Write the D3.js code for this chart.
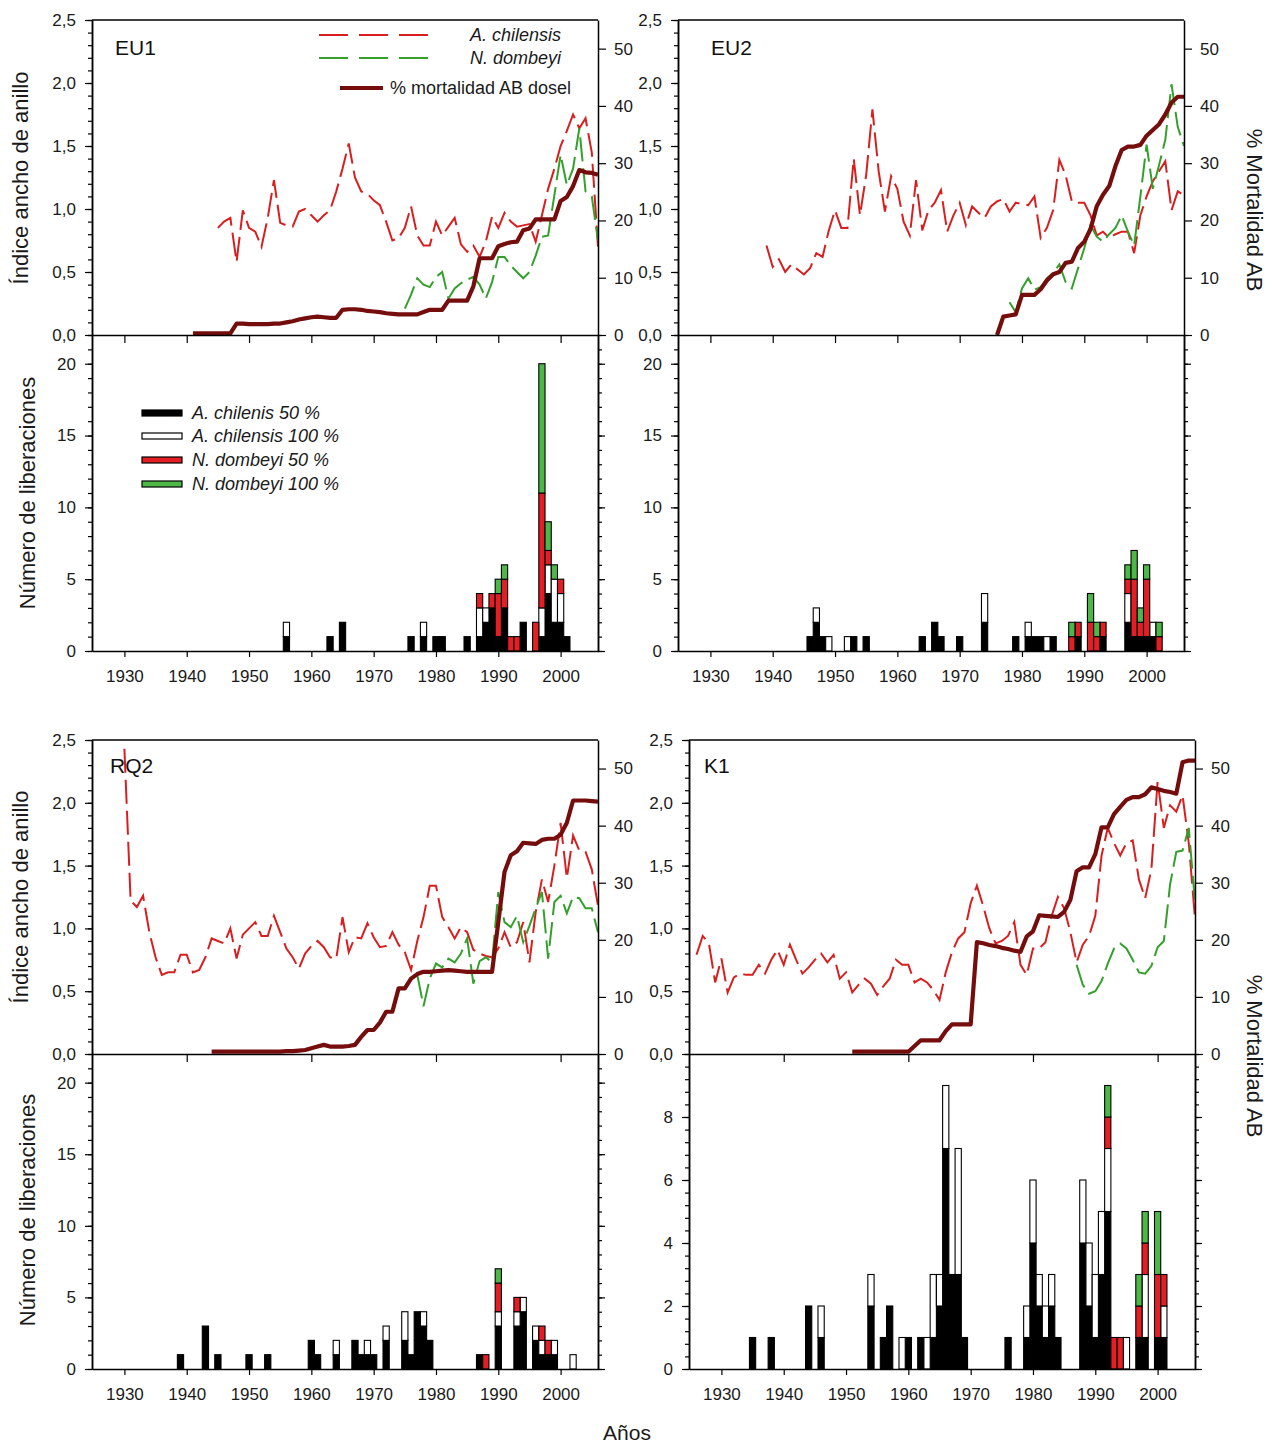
<!DOCTYPE html>
<html>
<head>
<meta charset="utf-8">
<script src="https://cdnjs.cloudflare.com/ajax/libs/d3/7.8.5/d3.min.js"></script>
<style>
body { margin: 0; background: #fff; }
</style>
</head>
<body>
<div id="chart"></div>
<script>
// ---------- datos (indice de ancho de anillo, un valor por año) ----------
var sites = ["EU1", "EU2", "RQ2", "K1"];

var eu1ChilStart = 1945;
var eu1Chil = [0.85,0.90,0.93,0.58,0.99,
  0.85,0.82,0.70,0.93,1.23,0.89,0.87,0.86,0.98,1.00,
  0.95,0.90,0.95,0.99,1.14,1.32,1.52,1.25,1.14,1.12,
  1.07,1.03,0.90,0.75,0.77,0.85,1.02,0.79,0.71,0.71,
  0.90,0.79,0.86,0.93,0.72,0.66,0.71,0.62,0.74,0.94,
  0.85,0.97,0.90,0.86,0.87,0.88,0.74,0.95,1.16,1.32,
  1.50,1.62,1.75,1.64,1.72,1.45,0.70];
var eu1DombStart = 1975;
var eu1Domb = [0.21,0.32,0.45,0.40,0.38,0.46,0.50,0.29,0.37,0.41,0.44,0.46,0.40,0.29,0.42,
  0.62,0.62,0.55,0.50,0.45,0.50,0.63,0.78,0.79,1.11,1.43,1.19,1.32,1.64,1.14,1.10,0.75];
var eu1MortStart = 1941;
var eu1Mort = [0.3,0.3,0.3,0.3,0.3,0.3,0.3,2.0,2.0,1.9,
  1.9,1.9,1.9,2.0,2.0,2.2,2.4,2.7,2.9,3.1,
  3.2,3.1,3.0,3.0,4.4,4.5,4.5,4.4,4.2,4.1,
  4.0,3.8,3.7,3.6,3.6,3.6,3.6,4.0,4.4,4.4,
  4.4,6.0,6.0,6.0,6.0,8.5,13.4,13.4,13.4,15.5,
  15.9,16.2,16.3,18.3,18.6,20.2,20.2,20.2,20.2,23.4,
  24.1,26.0,28.8,28.4,28.3,28.0];

var eu2ChilStart = 1939;
var eu2Chil = [0.71,0.54,0.60,0.50,0.56,0.52,0.48,0.53,0.65,0.62,0.83,
  0.99,0.85,0.85,1.40,0.95,1.27,1.79,1.30,0.98,1.26,
  1.16,0.90,0.79,1.23,0.83,0.99,1.05,1.15,0.82,0.95,
  1.05,0.87,1.02,0.97,0.93,1.02,1.06,1.08,0.98,1.05,
  1.04,1.03,1.10,0.77,0.85,0.99,1.39,1.27,1.06,1.05,
  1.05,0.95,0.79,0.82,0.77,0.80,0.82,0.82,0.65,0.95,
  1.10,1.22,1.30,1.38,0.99,1.14,1.11];
var eu2DombStart = 1978;
var eu2Domb = [0.26,0.18,0.37,0.45,0.36,0.38,0.45,0.49,0.56,0.42,0.37,0.53,
  0.69,0.87,0.78,0.74,0.80,0.85,0.95,0.82,0.71,1.10,1.51,1.16,1.35,1.55,1.99,1.65,1.50];
var eu2MortStart = 1976;
var eu2Mort = [0,3.2,3.4,3.6,7.0,7.0,7.0,8.0,9.5,10.6,11.0,12.6,12.8,15.2,
  16.3,18.5,22.5,24.5,26.0,29.5,32.3,32.9,32.9,33.2,34.8,35.8,36.8,38.5,40.6,41.6,41.6];

var rq2ChilStart = 1930;
var rq2Chil = [2.43,1.22,1.17,1.26,0.97,0.77,0.63,0.65,0.65,0.79,
  0.79,0.65,0.67,0.77,0.92,0.90,0.88,1.00,0.76,0.95,
  1.00,1.05,0.94,0.94,1.10,0.97,0.84,0.77,0.68,0.80,
  0.86,0.90,0.85,0.77,0.76,1.09,0.81,0.93,0.92,1.04,
  0.93,0.85,0.86,0.97,0.87,0.81,0.67,0.90,1.09,1.34,
  1.34,1.09,1.01,0.92,1.01,0.97,0.83,0.80,0.78,0.77,
  0.84,0.97,0.85,0.89,1.05,0.73,1.13,1.39,1.21,1.50,
  1.84,1.40,1.74,1.62,1.61,1.47,1.18];
var rq2DombStart = 1977;
var rq2Domb = [0.63,0.38,0.60,0.72,0.69,0.76,0.73,0.80,0.92,0.56,
  0.74,0.77,0.73,1.29,1.05,1.01,1.10,0.89,1.02,1.16,
  1.29,0.76,1.21,1.26,1.12,1.25,1.24,1.16,1.16,0.97];
var rq2MortStart = 1944;
var rq2Mort = [0.4,0.4,0.4,0.4,0.4,0.4,0.4,0.4,0.4,0.4,
  0.4,0.4,0.5,0.5,0.6,0.7,1.0,1.3,1.6,1.3,
  1.3,1.3,1.4,1.6,3.0,4.2,4.2,5.5,7.4,7.4,
  11.5,11.5,13.2,14.0,14.4,14.4,14.5,14.6,14.7,14.6,
  14.5,14.4,14.4,14.4,14.4,14.4,23.1,31.9,34.8,35.5,
  37.0,36.9,36.8,37.5,37.7,37.7,38.4,40.5,44.4,44.4,
  44.4,44.3,44.2];

var k1ChilStart = 1926;
var k1Chil = [0.79,0.94,0.88,0.57,
  0.76,0.49,0.61,0.64,0.63,0.63,0.71,0.64,0.75,0.83,
  0.71,0.87,0.75,0.64,0.69,0.75,0.80,0.73,0.79,0.60,
  0.65,0.49,0.55,0.60,0.56,0.47,0.54,0.60,0.75,0.71,
  0.71,0.57,0.60,0.57,0.51,0.43,0.65,0.81,0.92,0.97,
  1.20,1.34,1.18,1.00,0.88,0.90,0.94,1.05,0.71,0.63,
  0.84,0.84,0.89,1.10,1.25,1.16,0.97,0.73,0.87,0.94,
  1.10,1.58,1.80,1.68,1.58,1.68,1.70,1.39,1.24,1.47,
  2.17,1.80,1.98,1.93,2.06,1.68,1.08];
var k1DombStart = 1987;
var k1Domb = [0.71,0.55,0.48,0.50,0.58,0.72,0.84,0.88,0.84,0.75,
  0.65,0.64,0.70,0.85,0.90,1.35,1.61,1.62,1.80,1.21];
var k1MortStart = 1951;
var k1Mort = [0.4,0.4,0.4,0.4,0.4,0.4,0.4,0.4,0.4,0.4,
  1.4,2.4,2.4,2.4,2.4,4.0,5.2,5.2,5.2,5.2,
  19.6,19.4,19.1,18.9,18.6,18.4,18.1,17.9,20.6,21.5,
  24.3,24.2,24.1,24.0,24.9,27.0,32.0,32.7,32.7,35.0,
  39.7,39.7,42.0,43.3,44.5,45.0,45.0,45.5,46.7,46.4,
  46.1,45.9,45.6,51.1,51.4,51.4];

// ---------- datos (numero de liberaciones por año) ----------
var eu1BarYears = [1956,1963,1965,1976,1978,1980,1981,1985,1987,1988,1989,1990,1991,1992,1993,1994,1996,1997,1998,1999,2000,2001];
var eu1Ach50  = [1,1,2,1,1,1,1,1,1,2,3,1,3,0,0,2,0,1,4,2,2,1];
var eu1Ach100 = [1,0,0,0,1,0,0,0,2,1,0,0,0,0,0,0,0,2,2,3,2,0];
var eu1Nd50   = [0,0,0,0,0,0,0,0,1,0,1,3,2,1,1,0,2,8,1,0,1,0];
var eu1Nd100  = [0,0,0,0,0,0,0,0,0,0,0,1,1,0,0,0,0,9,2,1,0,0];

var eu2BarYears = [1946,1947,1948,1949,1952,1953,1955,1964,1966,1967,1970,1974,1979,1981,1982,1983,1984,1985,1988,1989,1991,1992,1993,1997,1998,1999,2000,2001,2002];
var eu2Ach50  = [1,2,1,0,0,1,1,1,2,1,1,2,1,1,1,1,0,1,0,1,0,0,1,2,1,1,1,1,0];
var eu2Ach100 = [0,1,0,1,1,0,0,0,0,0,0,2,0,1,0,0,1,0,0,0,0,0,0,2,0,0,0,1,0];
var eu2Nd50   = [0,0,0,0,0,0,0,0,0,0,0,0,0,0,0,0,0,0,1,1,2,1,1,1,4,1,4,0,1];
var eu2Nd100  = [0,0,0,0,0,0,0,0,0,0,0,0,0,0,0,0,0,0,1,0,2,1,0,1,2,1,1,0,1];

var rq2BarYears = [1939,1943,1945,1950,1953,1960,1961,1964,1967,1968,1969,1970,1972,1975,1976,1977,1978,1979,1987,1988,1990,1993,1994,1996,1997,1998,1999,2002];
var rq2Ach50  = [1,3,1,1,1,2,1,1,2,1,1,1,2,2,1,4,3,2,1,0,3,3,4,2,1,1,1,0];
var rq2Ach100 = [0,0,0,0,0,0,0,1,0,0,1,0,1,2,0,0,1,0,0,0,1,1,1,1,1,0,1,1];
var rq2Nd50   = [0,0,0,0,0,0,0,0,0,0,0,0,0,0,0,0,0,0,0,1,2,1,0,0,1,1,0,0];
var rq2Nd100  = [0,0,0,0,0,0,0,0,0,0,0,0,0,0,0,0,0,0,0,0,1,0,0,0,0,0,0,0];

var k1BarYears = [1935,1938,1944,1946,1954,1956,1957,1959,1960,1962,1963,1964,1965,1966,1967,1968,1969,1976,1979,1980,1981,1982,1983,1984,1988,1989,1990,1991,1992,1993,1994,1995,1997,1998,2000,2001];
var k1Ach50  = [1,1,2,1,2,1,2,0,1,1,0,1,2,7,3,3,1,1,1,4,2,1,2,1,4,2,1,3,5,0,0,0,1,1,1,1];
var k1Ach100 = [0,0,0,1,1,0,0,1,0,0,1,2,1,2,0,4,0,0,1,2,1,1,1,0,2,2,2,2,2,0,0,1,0,2,0,1];
var k1Nd50   = [0,0,0,0,0,0,0,0,0,0,0,0,0,0,0,0,0,0,0,0,0,0,0,0,0,0,0,0,1,1,1,0,1,1,2,1];
var k1Nd100  = [0,0,0,0,0,0,0,0,0,0,0,0,0,0,0,0,0,0,0,0,0,0,0,0,0,0,0,0,1,0,0,0,1,1,2,0];

var decadeTicks = [1930,1940,1950,1960,1970,1980,1990,2000];
var idxTicks = [0,0.5,1,1.5,2,2.5];
var mortTicks = [0,10,20,30,40,50];

// ---------- armado ----------
var data = {
  EU1: {chilStart: eu1ChilStart, chil: eu1Chil, dombStart: eu1DombStart, domb: eu1Domb, mortStart: eu1MortStart, mort: eu1Mort,
        years: eu1BarYears, a50: eu1Ach50, a100: eu1Ach100, n50: eu1Nd50, n100: eu1Nd100},
  EU2: {chilStart: eu2ChilStart, chil: eu2Chil, dombStart: eu2DombStart, domb: eu2Domb, mortStart: eu2MortStart, mort: eu2Mort,
        years: eu2BarYears, a50: eu2Ach50, a100: eu2Ach100, n50: eu2Nd50, n100: eu2Nd100},
  RQ2: {chilStart: rq2ChilStart, chil: rq2Chil, dombStart: rq2DombStart, domb: rq2Domb, mortStart: rq2MortStart, mort: rq2Mort,
        years: rq2BarYears, a50: rq2Ach50, a100: rq2Ach100, n50: rq2Nd50, n100: rq2Nd100},
  K1:  {chilStart: k1ChilStart, chil: k1Chil, dombStart: k1DombStart, domb: k1Domb, mortStart: k1MortStart, mort: k1Mort,
        years: k1BarYears, a50: k1Ach50, a100: k1Ach100, n50: k1Nd50, n100: k1Nd100}
};

// posiciones de cada panel
var layout = {
  EU1: {x0: 92,  x1: 598,  yTop: 20,  yMid: 335,  yBot: 651,  barMax: 22, barMajor: [0,5,10,15,20], barMinor: 1,   midTicks: decadeTicks, label: [115, 55]},
  EU2: {x0: 678, x1: 1184, yTop: 20,  yMid: 335,  yBot: 651,  barMax: 22, barMajor: [0,5,10,15,20], barMinor: 1,   midTicks: decadeTicks, label: [711, 55]},
  RQ2: {x0: 92,  x1: 598,  yTop: 740, yMid: 1054, yBot: 1369, barMax: 22, barMajor: [0,5,10,15,20], barMinor: 1,   midTicks: [1940,1960,1980,2000], label: [110, 773]},
  K1:  {x0: 689, x1: 1195, yTop: 740, yMid: 1054, yBot: 1369, barMax: 10, barMajor: [0,2,4,6,8],     barMinor: 0.4, midTicks: [1940,1960,1980,2000], label: [704, 773]}
};

var redCol = "#d81e1e", greenCol = "#33a02c", mortCol = "#760d0d";
var barRed = "#e31e24", barGreen = "#4db848";
var font = "'Liberation Sans', Arial, sans-serif";
var xDomain = [1924.8, 2006];

var W = 1270, H = 1447;
var svg = d3.select("#chart").append("svg")
  .attr("width", W).attr("height", H)
  .style("font-family", font);

var fmtIdx = function(d) { return d3.format(".1f")(d).replace(".", ","); };

function styleAxis(g, size) {
  g.selectAll("path.domain").attr("stroke", "#000").attr("stroke-width", 1.5);
  g.selectAll(".tick line").attr("stroke", "#000").attr("stroke-width", 1.2);
  g.selectAll("text").attr("font-family", font).attr("font-size", size || 17).attr("fill", "#1a1a1a");
}

function minorValues(max, step) {
  var out = [];
  for (var v = 0; v <= max + 1e-9; v += step) out.push(+v.toFixed(2));
  return out;
}

function drawSite(name) {
  var L = layout[name], D = data[name];
  var g = svg.append("g");

  var x = d3.scaleLinear().domain(xDomain).range([L.x0, L.x1]);
  var yIdx = d3.scaleLinear().domain([0, 2.5]).range([L.yMid, L.yTop]);
  var yMort = d3.scaleLinear().domain([0, 55]).range([L.yMid, L.yTop]);
  var yBar = d3.scaleLinear().domain([0, L.barMax]).range([L.yBot, L.yMid]);

  var clipId = "clip" + name;
  svg.append("clipPath").attr("id", clipId).append("rect")
    .attr("x", L.x0).attr("y", L.yTop)
    .attr("width", L.x1 - L.x0).attr("height", L.yMid - L.yTop);

  function pts(start, vals) {
    return vals.map(function(v, i) { return [start + i, v]; });
  }
  var lineIdx = d3.line().x(function(d) { return x(d[0]); }).y(function(d) { return yIdx(d[1]); });
  var lineMort = d3.line().x(function(d) { return x(d[0]); }).y(function(d) { return yMort(d[1]); });

  var lg = g.append("g").attr("clip-path", "url(#" + clipId + ")");
  lg.append("path").datum(pts(D.chilStart, D.chil))
    .attr("d", lineIdx).attr("fill", "none")
    .attr("stroke", redCol).attr("stroke-width", 2).attr("stroke-dasharray", "24,7");
  lg.append("path").datum(pts(D.dombStart, D.domb))
    .attr("d", lineIdx).attr("fill", "none")
    .attr("stroke", greenCol).attr("stroke-width", 2).attr("stroke-dasharray", "24,7");
  lg.append("path").datum(pts(D.mortStart, D.mort))
    .attr("d", lineMort).attr("fill", "none")
    .attr("stroke", mortCol).attr("stroke-width", 4.2).attr("stroke-linejoin", "round");

  // barras apiladas
  var rows = D.years.map(function(yr, i) {
    return {year: yr, a50: D.a50[i], a100: D.a100[i], n50: D.n50[i], n100: D.n100[i]};
  });
  var keys = ["a50", "a100", "n50", "n100"];
  var fills = {a50: "#000", a100: "#fff", n50: barRed, n100: barGreen};
  var stack = d3.stack().keys(keys)(rows);
  var bw = x(1.5) - x(0.5);

  stack.forEach(function(layer) {
    g.append("g").selectAll("rect")
      .data(layer.filter(function(d) { return d[1] > d[0]; }))
      .enter()
      .append("rect")
      .attr("x", function(d) { return x(d.data.year) - bw / 2; })
      .attr("y", function(d) { return yBar(d[1]); })
      .attr("width", bw)
      .attr("height", function(d) { return yBar(d[0]) - yBar(d[1]); })
      .attr("fill", fills[layer.key])
      .attr("stroke", "#000")
      .attr("stroke-width", 1.1);
  });

  // ejes del panel superior
  var a;
  a = g.append("g").attr("transform", "translate(" + L.x0 + ",0)")
    .call(d3.axisLeft(yIdx).tickValues(idxTicks).tickFormat(fmtIdx).tickSize(7).tickPadding(9).tickSizeOuter(0));
  styleAxis(a);
  a = g.append("g").attr("transform", "translate(" + L.x0 + ",0)")
    .call(d3.axisLeft(yIdx).tickValues(minorValues(2.5, 0.1)).tickFormat("").tickSize(4).tickSizeOuter(0));
  styleAxis(a);
  a = g.append("g").attr("transform", "translate(" + L.x1 + ",0)")
    .call(d3.axisRight(yMort).tickValues(mortTicks).tickSize(8).tickPadding(8).tickSizeOuter(0));
  styleAxis(a);
  g.append("line").attr("x1", L.x0).attr("x2", L.x1).attr("y1", L.yTop).attr("y2", L.yTop)
    .attr("stroke", "#000").attr("stroke-width", 1.5);
  a = g.append("g").attr("transform", "translate(0," + L.yMid + ")")
    .call(d3.axisBottom(x).tickValues(L.midTicks).tickFormat("").tickSize(8).tickSizeOuter(0));
  styleAxis(a);

  // ejes del panel de barras
  a = g.append("g").attr("transform", "translate(" + L.x0 + ",0)")
    .call(d3.axisLeft(yBar).tickValues(L.barMajor).tickSize(7).tickPadding(9).tickSizeOuter(0));
  styleAxis(a);
  a = g.append("g").attr("transform", "translate(" + L.x0 + ",0)")
    .call(d3.axisLeft(yBar).tickValues(minorValues(L.barMax, L.barMinor)).tickFormat("").tickSize(4).tickSizeOuter(0));
  styleAxis(a);
  a = g.append("g").attr("transform", "translate(" + L.x1 + ",0)")
    .call(d3.axisRight(yBar).tickValues(L.barMajor).tickFormat("").tickSize(7).tickSizeOuter(0));
  styleAxis(a);
  a = g.append("g").attr("transform", "translate(" + L.x1 + ",0)")
    .call(d3.axisRight(yBar).tickValues(minorValues(L.barMax, L.barMinor)).tickFormat("").tickSize(4).tickSizeOuter(0));
  styleAxis(a);
  a = g.append("g").attr("transform", "translate(0," + L.yBot + ")")
    .call(d3.axisBottom(x).tickValues(decadeTicks).tickFormat(d3.format("d")).tickSize(6).tickPadding(13).tickSizeOuter(0));
  styleAxis(a, 17);

  g.append("text").attr("x", L.label[0]).attr("y", L.label[1])
    .attr("font-size", 21).attr("fill", "#111").text(name);
}

sites.forEach(drawSite);

// ---------- leyendas ----------
var leg = svg.append("g").attr("font-family", font).attr("fill", "#1a1a1a");
leg.append("line").attr("x1", 319).attr("x2", 430).attr("y1", 35).attr("y2", 35)
  .attr("stroke", redCol).attr("stroke-width", 2).attr("stroke-dasharray", "29,11");
leg.append("line").attr("x1", 319).attr("x2", 430).attr("y1", 58).attr("y2", 58)
  .attr("stroke", greenCol).attr("stroke-width", 2).attr("stroke-dasharray", "29,11");
leg.append("line").attr("x1", 340).attr("x2", 383).attr("y1", 88).attr("y2", 88)
  .attr("stroke", mortCol).attr("stroke-width", 4.2);
leg.append("text").attr("x", 470).attr("y", 41).attr("font-size", 18).attr("font-style", "italic").text("A. chilensis");
leg.append("text").attr("x", 470).attr("y", 64).attr("font-size", 18).attr("font-style", "italic").text("N. dombeyi");
leg.append("text").attr("x", 390).attr("y", 94).attr("font-size", 18).text("% mortalidad AB dosel");

var barLegend = [
  {label: "A. chilenis 50 %",   fill: "#000",   y: 413},
  {label: "A. chilensis 100 %", fill: "#fff",   y: 436},
  {label: "N. dombeyi 50 %",    fill: barRed,   y: 460},
  {label: "N. dombeyi 100 %",   fill: barGreen, y: 484}
];
barLegend.forEach(function(d) {
  leg.append("rect").attr("x", 142).attr("y", d.y - 3).attr("width", 40).attr("height", 6)
    .attr("fill", d.fill).attr("stroke", "#000").attr("stroke-width", 1.2);
  leg.append("text").attr("x", 192).attr("y", d.y + 6).attr("font-size", 18)
    .attr("font-style", "italic").text(d.label);
});

// ---------- titulos de ejes ----------
var titles = [
  {t: "Índice ancho de anillo", x: 20, y: 178, r: -90},
  {t: "Índice ancho de anillo", x: 20, y: 897, r: -90},
  {t: "Número de liberaciones", x: 27, y: 493, r: -90},
  {t: "Número de liberaciones", x: 27, y: 1210, r: -90},
  {t: "% Mortalidad AB", x: 1255, y: 210, r: 90},
  {t: "% Mortalidad AB", x: 1255, y: 1056, r: 90}
];
titles.forEach(function(d) {
  svg.append("text")
    .attr("transform", "translate(" + d.x + "," + d.y + ") rotate(" + d.r + ")")
    .attr("text-anchor", "middle").attr("dy", "0.35em")
    .attr("font-size", 22).attr("fill", "#1a1a1a").text(d.t);
});
svg.append("text").attr("x", 627).attr("y", 1440).attr("text-anchor", "middle")
  .attr("font-size", 21).attr("fill", "#1a1a1a").text("Años");
</script>
</body>
</html>
